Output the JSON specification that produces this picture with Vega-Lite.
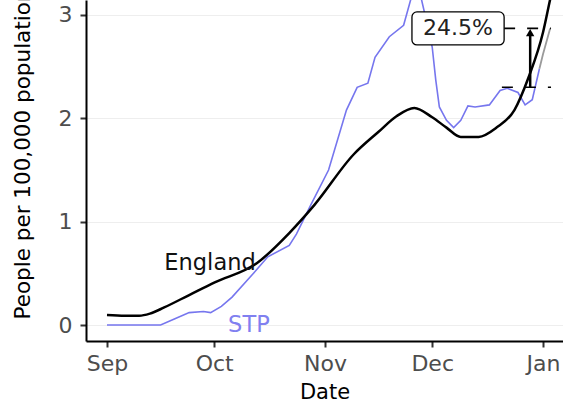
{
  "$schema": "https://vega.github.io/schema/vega-lite/v6.json",
  "width": 477,
  "height": 341,
  "autosize": {"type": "none"},
  "padding": {"left": 86, "top": 0, "right": 0, "bottom": 63},
  "background": "white",
  "config": {
    "view": {"stroke": null},
    "font": "DejaVu Sans"
  },
  "datasets": {
    "lines": [
      {"date": "2020-09-01", "series": "England", "value": 0.097},
      {"date": "2020-09-06", "series": "England", "value": 0.09},
      {"date": "2020-09-10", "series": "England", "value": 0.09},
      {"date": "2020-09-13", "series": "England", "value": 0.11},
      {"date": "2020-09-17", "series": "England", "value": 0.17},
      {"date": "2020-09-24", "series": "England", "value": 0.29},
      {"date": "2020-10-01", "series": "England", "value": 0.41},
      {"date": "2020-10-13", "series": "England", "value": 0.6},
      {"date": "2020-10-22", "series": "England", "value": 0.89},
      {"date": "2020-10-29", "series": "England", "value": 1.16},
      {"date": "2020-11-09", "series": "England", "value": 1.65},
      {"date": "2020-11-16", "series": "England", "value": 1.87},
      {"date": "2020-11-21", "series": "England", "value": 2.02},
      {"date": "2020-11-26", "series": "England", "value": 2.1},
      {"date": "2020-12-01", "series": "England", "value": 2.01},
      {"date": "2020-12-05", "series": "England", "value": 1.91},
      {"date": "2020-12-09", "series": "England", "value": 1.82},
      {"date": "2020-12-14", "series": "England", "value": 1.82},
      {"date": "2020-12-19", "series": "England", "value": 1.91},
      {"date": "2020-12-24", "series": "England", "value": 2.08},
      {"date": "2020-12-28", "series": "England", "value": 2.4},
      {"date": "2021-01-01", "series": "England", "value": 2.83},
      {"date": "2021-01-03", "series": "England", "value": 3.15},
      {"date": "2021-01-06", "series": "England", "value": 3.6},
      {"date": "2020-09-01", "series": "STP", "value": 0},
      {"date": "2020-09-09", "series": "STP", "value": 0},
      {"date": "2020-09-16", "series": "STP", "value": 0},
      {"date": "2020-09-20", "series": "STP", "value": 0.06},
      {"date": "2020-09-24", "series": "STP", "value": 0.12},
      {"date": "2020-09-28", "series": "STP", "value": 0.13},
      {"date": "2020-09-30", "series": "STP", "value": 0.12},
      {"date": "2020-10-03", "series": "STP", "value": 0.18},
      {"date": "2020-10-06", "series": "STP", "value": 0.27},
      {"date": "2020-10-12", "series": "STP", "value": 0.5},
      {"date": "2020-10-16", "series": "STP", "value": 0.66},
      {"date": "2020-10-22", "series": "STP", "value": 0.77},
      {"date": "2020-10-24", "series": "STP", "value": 0.88},
      {"date": "2020-10-28", "series": "STP", "value": 1.16},
      {"date": "2020-11-02", "series": "STP", "value": 1.5},
      {"date": "2020-11-07", "series": "STP", "value": 2.08},
      {"date": "2020-11-10", "series": "STP", "value": 2.3},
      {"date": "2020-11-13", "series": "STP", "value": 2.34},
      {"date": "2020-11-15", "series": "STP", "value": 2.59},
      {"date": "2020-11-19", "series": "STP", "value": 2.79},
      {"date": "2020-11-23", "series": "STP", "value": 2.9},
      {"date": "2020-11-25", "series": "STP", "value": 3.15},
      {"date": "2020-11-27", "series": "STP", "value": 3.35},
      {"date": "2020-11-28", "series": "STP", "value": 3.15},
      {"date": "2020-11-30", "series": "STP", "value": 2.85},
      {"date": "2020-12-01", "series": "STP", "value": 2.69},
      {"date": "2020-12-02", "series": "STP", "value": 2.37},
      {"date": "2020-12-03", "series": "STP", "value": 2.11},
      {"date": "2020-12-05", "series": "STP", "value": 1.98},
      {"date": "2020-12-07", "series": "STP", "value": 1.91},
      {"date": "2020-12-09", "series": "STP", "value": 1.98},
      {"date": "2020-12-11", "series": "STP", "value": 2.12},
      {"date": "2020-12-13", "series": "STP", "value": 2.11},
      {"date": "2020-12-17", "series": "STP", "value": 2.13},
      {"date": "2020-12-20", "series": "STP", "value": 2.27},
      {"date": "2020-12-22", "series": "STP", "value": 2.29},
      {"date": "2020-12-25", "series": "STP", "value": 2.25},
      {"date": "2020-12-27", "series": "STP", "value": 2.13},
      {"date": "2020-12-29", "series": "STP", "value": 2.18},
      {"date": "2020-12-31", "series": "STP", "value": 2.48},
      {"date": "2020-12-31", "series": "STP recent", "value": 2.48},
      {"date": "2021-01-01", "series": "STP recent", "value": 2.62},
      {"date": "2021-01-03", "series": "STP recent", "value": 2.87}
    ],
    "refs": [
      {"start": "2020-12-21T03:00:00Z", "end": "2021-01-03T06:00:00Z", "value": 2.87},
      {"start": "2020-12-20T12:00:00Z", "end": "2021-01-03T06:00:00Z", "value": 2.3}
    ],
    "arrow": [
      {"date": "2020-12-28T10:00:00Z", "from": 2.3, "to": 2.8, "tip": 2.83}
    ],
    "box": [
      {"start": "2020-11-25T08:00:00Z", "end": "2020-12-21T03:00:00Z", "low": 2.71, "high": 3.03, "mid": "2020-12-08T05:00:00Z", "value": 2.87, "label": "24.5%"}
    ],
    "labels": [
      {"date": "2020-09-29T20:00:00Z", "value": 0.6, "label": "England", "series": "England"},
      {"date": "2020-10-10T17:00:00Z", "value": 0.0, "label": "STP", "series": "STP"}
    ]
  },
  "encoding": {
    "x": {
      "field": "date",
      "type": "temporal",
      "title": "Date",
      "scale": {
        "type": "utc",
        "domain": [
          {"year": 2020, "month": 8, "date": 26, "hours": 3, "utc": true},
          {"year": 2021, "month": 1, "date": 6, "hours": 14, "minutes": 24, "utc": true}
        ]
      },
      "axis": {
        "values": [
          {"year": 2020, "month": 9, "date": 1, "utc": true},
          {"year": 2020, "month": 10, "date": 1, "utc": true},
          {"year": 2020, "month": 11, "date": 1, "utc": true},
          {"year": 2020, "month": 12, "date": 1, "utc": true},
          {"year": 2021, "month": 1, "date": 1, "utc": true}
        ],
        "labelExpr": "utcFormat(datum.value, '%b')",
        "labelOverlap": false,
        "labelBound": false,
        "grid": false,
        "domainColor": "black",
        "domainWidth": 2,
        "tickColor": "#333333",
        "tickWidth": 2,
        "tickSize": 6,
        "labelFontSize": 22,
        "labelColor": "#4d4d4d",
        "labelPadding": 6,
        "titleFontSize": 21,
        "titleFontWeight": "normal",
        "titleColor": "black",
        "titlePadding": 7
      }
    },
    "y": {
      "field": "value",
      "type": "quantitative",
      "scale": {"domain": [-0.1548, 3.145], "nice": false, "zero": false},
      "axis": {
        "values": [0, 1, 2, 3],
        "grid": true,
        "gridColor": "#eeeeee",
        "gridWidth": 1,
        "domainColor": "black",
        "domainWidth": 2,
        "tickColor": "#333333",
        "tickWidth": 2,
        "tickSize": 6,
        "labelFontSize": 22,
        "labelColor": "#4d4d4d",
        "labelPadding": 8,
        "title": "People per 100,000 population",
        "titleFontSize": 21.5,
        "titleFontWeight": "normal",
        "titleColor": "black",
        "titleAngle": 270,
        "titleAlign": "left",
        "titleBaseline": "bottom",
        "titleY": 319,
        "titleX": -52
      }
    }
  },
  "layer": [
    {
      "data": {"name": "lines"},
      "transform": [{"filter": "datum.series === 'STP'"}],
      "mark": {"type": "line", "color": "#7676ee", "strokeWidth": 1.6, "clip": true},
      "encoding": {}
    },
    {
      "data": {"name": "lines"},
      "transform": [{"filter": "datum.series === 'STP recent'"}],
      "mark": {"type": "line", "color": "#9a9a9a", "strokeWidth": 1.8, "clip": true},
      "encoding": {}
    },
    {
      "data": {"name": "lines"},
      "transform": [{"filter": "datum.series === 'England'"}],
      "mark": {"type": "line", "color": "black", "strokeWidth": 2.5, "interpolate": "monotone", "clip": true},
      "encoding": {}
    },
    {
      "data": {"name": "refs"},
      "mark": {"type": "rule", "color": "black", "strokeWidth": 1.6, "strokeDash": [11, 12], "clip": true},
      "encoding": {
        "x": {"field": "start", "type": "temporal"},
        "x2": {"field": "end"},
        "y": {"field": "value", "type": "quantitative"}
      }
    },
    {
      "data": {"name": "arrow"},
      "mark": {"type": "rule", "color": "black", "strokeWidth": 2.5, "clip": true},
      "encoding": {
        "x": {"field": "date", "type": "temporal"},
        "y": {"field": "from", "type": "quantitative"},
        "y2": {"field": "to"}
      }
    },
    {
      "data": {"name": "arrow"},
      "mark": {"type": "point", "shape": "triangle-up", "filled": true, "color": "black", "size": 70, "opacity": 1, "clip": true},
      "encoding": {
        "x": {"field": "date", "type": "temporal"},
        "y": {"field": "tip", "type": "quantitative"}
      }
    },
    {
      "data": {"name": "box"},
      "mark": {"type": "rect", "fill": "white", "stroke": "black", "strokeWidth": 1.3, "cornerRadius": 5, "clip": true},
      "encoding": {
        "x": {"field": "start", "type": "temporal"},
        "x2": {"field": "end"},
        "y": {"field": "low", "type": "quantitative"},
        "y2": {"field": "high"}
      }
    },
    {
      "data": {"name": "box"},
      "mark": {"type": "text", "fontSize": 22, "color": "#222222", "align": "center", "baseline": "middle"},
      "encoding": {
        "x": {"field": "mid", "type": "temporal"},
        "y": {"field": "value", "type": "quantitative"},
        "text": {"field": "label"}
      }
    },
    {
      "data": {"name": "labels"},
      "mark": {"type": "text", "fontSize": 22.5, "align": "center", "baseline": "middle"},
      "encoding": {
        "x": {"field": "date", "type": "temporal"},
        "y": {"field": "value", "type": "quantitative"},
        "text": {"field": "label"},
        "color": {
          "field": "series",
          "type": "nominal",
          "scale": {"domain": ["England", "STP"], "range": ["#111111", "#8080f0"]},
          "legend": null
        }
      }
    }
  ]
}
